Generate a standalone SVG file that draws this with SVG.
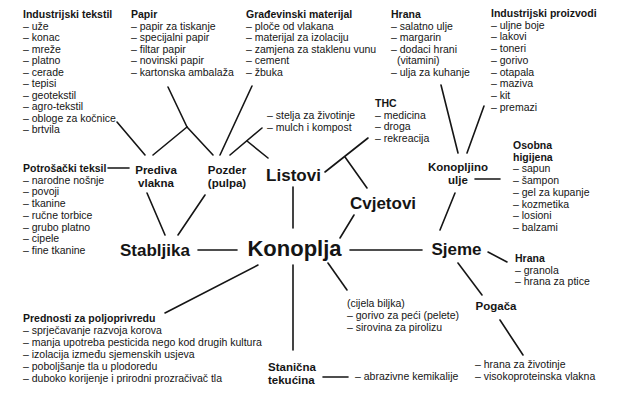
<svg xmlns="http://www.w3.org/2000/svg" width="640" height="400" viewBox="0 0 640 400">
<style>
text{font-family:"Liberation Sans",Arial,sans-serif;fill:#151515}
.s{font-size:10.5px}
.b{font-weight:bold}
.m{font-size:11.5px;font-weight:bold;text-anchor:middle}
.ml{font-size:11.5px;font-weight:bold}
.L{font-size:17px;font-weight:bold;text-anchor:middle}
.X{font-size:22px;font-weight:bold;text-anchor:middle}
#connectors line{stroke:#151515;stroke-width:1.6;stroke-linecap:round}
</style>
<rect width="640" height="400" fill="#fff"/>
<g id="connectors">
<line x1="117" y1="122" x2="145" y2="155"/>
<line x1="168" y1="87" x2="187" y2="127"/>
<line x1="187" y1="127" x2="153" y2="155"/>
<line x1="187" y1="127" x2="213" y2="155"/>
<line x1="252" y1="86" x2="220" y2="155"/>
<line x1="230" y1="155" x2="262" y2="128"/>
<line x1="247" y1="141" x2="268" y2="158"/>
<line x1="293" y1="187" x2="293" y2="228"/>
<line x1="325" y1="172" x2="368" y2="138"/>
<line x1="345" y1="157" x2="367" y2="188"/>
<line x1="354" y1="215" x2="340" y2="238"/>
<line x1="198" y1="250" x2="237" y2="250"/>
<line x1="350" y1="250" x2="422" y2="250"/>
<line x1="258" y1="265" x2="165" y2="313"/>
<line x1="293" y1="265" x2="293" y2="350"/>
<line x1="328" y1="263" x2="347" y2="290"/>
<line x1="147" y1="193" x2="165" y2="235"/>
<line x1="205" y1="195" x2="178" y2="235"/>
<line x1="455" y1="193" x2="440" y2="230"/>
<line x1="441" y1="85" x2="458" y2="153"/>
<line x1="484" y1="106" x2="467" y2="153"/>
<line x1="475" y1="179" x2="500" y2="179"/>
<line x1="488" y1="252" x2="507" y2="262"/>
<line x1="458" y1="263" x2="482" y2="295"/>
<line x1="500" y1="320" x2="523" y2="355"/>
<line x1="108" y1="168" x2="129" y2="168"/>
<line x1="323" y1="377" x2="348" y2="377"/>
</g>
<g id="industrijski-tekstil"><text class="s" x="23" y="18"><tspan class="b">Industrijski tekstil</tspan><tspan x="23" dy="11.5">– uže</tspan><tspan x="23" dy="11.5">– konac</tspan><tspan x="23" dy="11.5">– mreže</tspan><tspan x="23" dy="11.5">– platno</tspan><tspan x="23" dy="11.5">– cerade</tspan><tspan x="23" dy="11.5">– tepisi</tspan><tspan x="23" dy="11.5">– geotekstil</tspan><tspan x="23" dy="11.5">– agro-tekstil</tspan><tspan x="23" dy="11.5">– obloge za kočnice</tspan><tspan x="23" dy="11.5">– brtvila</tspan></text></g>
<g id="papir"><text class="s" x="131" y="18"><tspan class="b">Papir</tspan><tspan x="131" dy="11.5">– papir za tiskanje</tspan><tspan x="131" dy="11.5">– specijalni papir</tspan><tspan x="131" dy="11.5">– filtar papir</tspan><tspan x="131" dy="11.5">– novinski papir</tspan><tspan x="131" dy="11.5">– kartonska ambalaža</tspan></text></g>
<g id="gradevinski"><text class="s" x="246" y="18"><tspan class="b">Građevinski materijal</tspan><tspan x="246" dy="11.5">– ploče od vlakana</tspan><tspan x="246" dy="11.5">– materijal za izolaciju</tspan><tspan x="246" dy="11.5">– zamjena za staklenu vunu</tspan><tspan x="246" dy="11.5">– cement</tspan><tspan x="246" dy="11.5">– žbuka</tspan></text></g>
<g id="hrana-ulje"><text class="s" x="391" y="18"><tspan class="b">Hrana</tspan><tspan x="391" dy="11.5">– salatno ulje</tspan><tspan x="391" dy="11.5">– margarin</tspan><tspan x="391" dy="11.5">– dodaci hrani</tspan><tspan x="397" dy="11.5">(vitamini)</tspan><tspan x="391" dy="11.5">– ulja za kuhanje</tspan></text></g>
<g id="industrijski-proizvodi"><text class="s" x="491" y="17"><tspan class="b">Industrijski proizvodi</tspan><tspan x="491" dy="11.7">– uljne boje</tspan><tspan x="491" dy="11.7">– lakovi</tspan><tspan x="491" dy="11.7">– toneri</tspan><tspan x="491" dy="11.7">– gorivo</tspan><tspan x="491" dy="11.7">– otapala</tspan><tspan x="491" dy="11.7">– maziva</tspan><tspan x="491" dy="11.7">– kit</tspan><tspan x="491" dy="11.7">– premazi</tspan></text></g>
<g id="stelja"><text class="s" x="267" y="119"><tspan>– stelja za životinje</tspan><tspan x="267" dy="11.5">– mulch i kompost</tspan></text></g>
<g id="thc"><text class="s" x="375" y="107"><tspan class="b">THC</tspan><tspan x="375" dy="11.5">– medicina</tspan><tspan x="375" dy="11.5">– droga</tspan><tspan x="375" dy="11.5">– rekreacija</tspan></text></g>
<g id="potrosacki"><text class="s" x="23" y="172"><tspan class="b">Potrošački teksil</tspan><tspan x="23" dy="11.7">– narodne nošnje</tspan><tspan x="23" dy="11.7">– povoji</tspan><tspan x="23" dy="11.7">– tkanine</tspan><tspan x="23" dy="11.7">– ručne torbice</tspan><tspan x="23" dy="11.7">– grubo platno</tspan><tspan x="23" dy="11.7">– cipele</tspan><tspan x="23" dy="11.7">– fine tkanine</tspan></text></g>
<g id="prediva"><text class="m" x="156" y="174"><tspan>Prediva</tspan><tspan x="156" dy="13">vlakna</tspan></text></g>
<g id="pozder"><text class="m" x="227" y="174"><tspan>Pozder</tspan><tspan x="227" dy="13">(pulpa)</tspan></text></g>
<g id="listovi"><text class="L" x="293.5" y="181">Listovi</text></g>
<g id="cvjetovi"><text class="L" x="383" y="209">Cvjetovi</text></g>
<g id="konopljino-ulje"><text class="m" x="458" y="171"><tspan>Konopljino</tspan><tspan x="458" dy="13">ulje</tspan></text></g>
<g id="osobna-higijena"><text class="s" x="513" y="149"><tspan class="b">Osobna</tspan><tspan class="b" x="513" dy="11.7">higijena</tspan><tspan x="513" dy="11.7">– sapun</tspan><tspan x="513" dy="11.7">– šampon</tspan><tspan x="513" dy="11.7">– gel za kupanje</tspan><tspan x="513" dy="11.7">– kozmetika</tspan><tspan x="513" dy="11.7">– losioni</tspan><tspan x="513" dy="11.7">– balzami</tspan></text></g>
<g id="stabljika"><text class="L" x="155" y="256">Stabljika</text></g>
<g id="konoplja"><text class="X" x="294.5" y="256">Konoplja</text></g>
<g id="sjeme"><text class="L" x="456.5" y="255">Sjeme</text></g>
<g id="hrana-sjeme"><text class="s" x="515" y="262"><tspan class="b">Hrana</tspan><tspan x="515" dy="11.5">– granola</tspan><tspan x="515" dy="11.5">– hrana za ptice</tspan></text></g>
<g id="cijela-biljka"><text class="s" x="347" y="307"><tspan>(cijela biljka)</tspan><tspan x="347" dy="12">– gorivo za peći (pelete)</tspan><tspan x="347" dy="12">– sirovina za pirolizu</tspan></text></g>
<g id="pogaca"><text class="m" x="496" y="310">Pogača</text></g>
<g id="pogaca-upotreba"><text class="s" x="475" y="368"><tspan>– hrana za životinje</tspan><tspan x="475" dy="12">– visokoproteinska vlakna</tspan></text></g>
<g id="prednosti"><text class="s" x="23" y="322"><tspan class="b">Prednosti za poljoprivredu</tspan><tspan x="23" dy="12">– sprječavanje razvoja  korova</tspan><tspan x="23" dy="12">– manja upotreba pesticida nego kod drugih kultura</tspan><tspan x="23" dy="12">– izolacija između sjemenskih usjeva</tspan><tspan x="23" dy="12">– poboljšanje tla u plodoredu</tspan><tspan x="23" dy="12">– duboko korijenje i prirodni prozračivač tla</tspan></text></g>
<g id="stanicna"><text class="ml" x="268" y="371"><tspan>Stanična</tspan><tspan x="268" dy="13">tekućina</tspan></text></g>
<g id="abrazivne"><text class="s" x="355" y="380">– abrazivne kemikalije</text></g>
</svg>
